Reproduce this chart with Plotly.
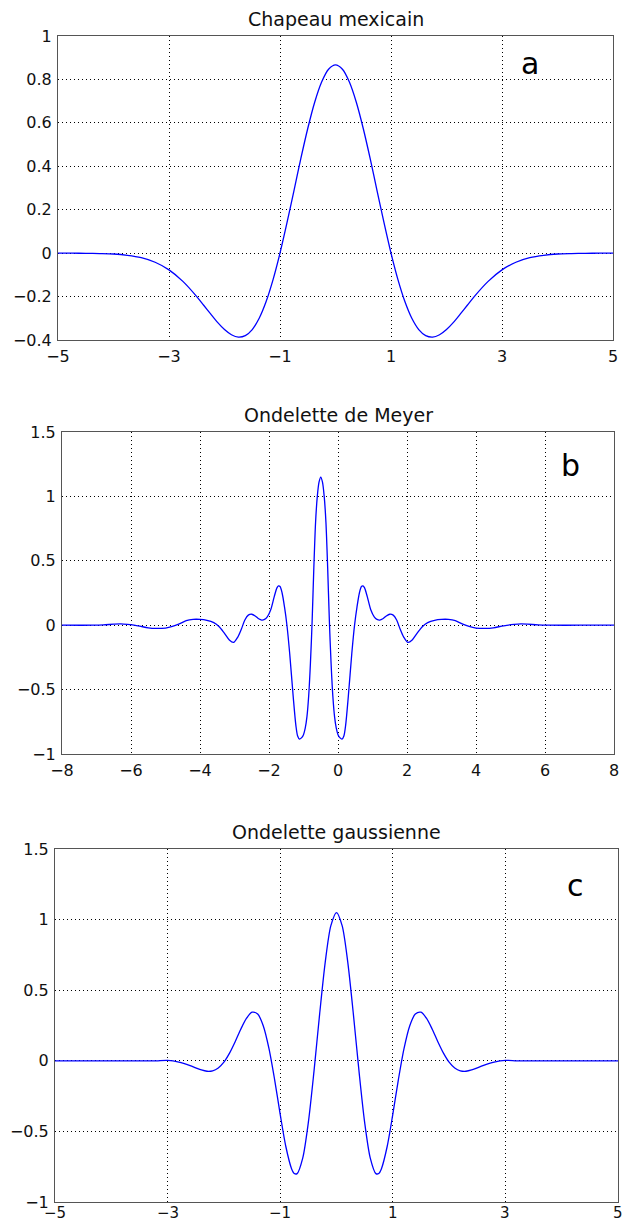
import plotly.graph_objects as go

# ---------------- data ----------------
# (a) Chapeau mexicain
hat_x = [-5, -4.75, -4.5, -4.25, -4, -3.75, -3.5, -3.25, -3, -2.75, -2.5, -2.375, -2.25, -2.125,
         -2, -1.875, -1.75, -1.625, -1.5, -1.375, -1.25, -1.125, -1, -0.875, -0.75, -0.625,
         -0.5, -0.375, -0.25, -0.125, 0, 0.125, 0.25, 0.375, 0.5, 0.625, 0.75, 0.875, 1,
         1.125, 1.25, 1.375, 1.5, 1.625, 1.75, 1.875, 2, 2.125, 2.25, 2.375, 2.5, 2.75, 3,
         3.25, 3.5, 3.75, 4, 4.25, 4.5, 4.75, 5]
hat_y = [0.0, 0.0, -0.001, -0.002, -0.004, -0.010, -0.021, -0.042, -0.077, -0.130, -0.200,
         -0.240, -0.280, -0.319, -0.352, -0.376, -0.387, -0.380, -0.352, -0.300, -0.223,
         -0.122, 0.0, 0.139, 0.286, 0.435, 0.574, 0.695, 0.788, 0.847, 0.867, 0.847, 0.788,
         0.695, 0.574, 0.435, 0.286, 0.139, 0.0, -0.122, -0.223, -0.300, -0.352, -0.380,
         -0.387, -0.376, -0.352, -0.319, -0.280, -0.240, -0.200, -0.130, -0.077, -0.042,
         -0.021, -0.010, -0.004, -0.002, -0.001, 0.0, 0.0]

# (b) Ondelette de Meyer
meyer_x = [-8.0, -7.1, -6.8, -6.5, -6.3, -6.1, -5.8, -5.5, -5.3, -5.0, -4.8, -4.6, -4.4, -4.2,
           -4.0, -3.8, -3.6, -3.45, -3.3, -3.15, -3.03, -2.9, -2.8, -2.7, -2.6, -2.5, -2.4,
           -2.3, -2.21, -2.13, -2.05, -1.95, -1.85, -1.77, -1.725, -1.68, -1.62, -1.55, -1.48,
           -1.4, -1.3, -1.22, -1.17, -1.115, -1.06, -1.0, -0.95, -0.9, -0.85, -0.8, -0.75, -0.7,
           -0.65, -0.6, -0.55, -0.5, -0.45, -0.4, -0.35, -0.3, -0.25, -0.2, -0.15, -0.1, -0.05,
           0.0, 0.06, 0.115, 0.17, 0.22, 0.3, 0.4, 0.48, 0.55, 0.62, 0.68, 0.725, 0.77, 0.85,
           0.95, 1.05, 1.13, 1.21, 1.3, 1.4, 1.5, 1.6, 1.7, 1.8, 1.9, 2.03, 2.15, 2.3, 2.45,
           2.6, 2.8, 3.0, 3.2, 3.4, 3.6, 3.8, 4.0, 4.3, 4.5, 4.8, 5.1, 5.3, 5.5, 5.8, 6.1, 7.0, 8.0]
meyer_y = [0.0, 0.0, 0.002, 0.008, 0.010, 0.006, -0.005, -0.020, -0.025, -0.022, -0.010,
           0.010, 0.035, 0.045, 0.045, 0.038, 0.020, -0.010, -0.060, -0.115, -0.134, -0.090,
           -0.030, 0.040, 0.078, 0.085, 0.072, 0.050, 0.040, 0.045, 0.065, 0.120, 0.220, 0.290,
           0.305, 0.300, 0.250, 0.140, 0.000, -0.220, -0.550, -0.780, -0.860, -0.885, -0.875,
           -0.850, -0.800, -0.710, -0.550, -0.300, 0.030, 0.450, 0.800, 1.000, 1.110, 1.150,
           1.110, 1.000, 0.800, 0.450, 0.030, -0.300, -0.550, -0.710, -0.800, -0.850, -0.875,
           -0.885, -0.860, -0.780, -0.550, -0.220, 0.000, 0.140, 0.250, 0.300, 0.305, 0.290,
           0.220, 0.120, 0.065, 0.045, 0.040, 0.050, 0.072, 0.085, 0.078, 0.040, -0.030, -0.090,
           -0.134, -0.115, -0.060, -0.010, 0.020, 0.038, 0.045, 0.045, 0.035, 0.010, -0.010,
           -0.022, -0.025, -0.020, -0.005, 0.006, 0.010, 0.008, 0.002, 0.0, 0.0, 0.0]

# (c) Ondelette gaussienne
gaus_x = [-5, -4, -3.4, -3.2, -3.0, -2.8, -2.6, -2.5, -2.4, -2.3, -2.2, -2.1, -2.0, -1.9, -1.8,
          -1.7, -1.6, -1.5, -1.4, -1.3, -1.2, -1.1, -1.0, -0.9, -0.8, -0.75, -0.7, -0.6, -0.5,
          -0.4, -0.3, -0.2, -0.1, 0.0, 0.1, 0.2, 0.3, 0.4, 0.5, 0.6, 0.7, 0.75, 0.8, 0.9, 1.0,
          1.1, 1.2, 1.3, 1.4, 1.5, 1.6, 1.7, 1.8, 1.9, 2.0, 2.1, 2.2, 2.3, 2.4, 2.5, 2.6, 2.8,
          3.0, 3.2, 3.4, 4, 5]
gaus_y = [0.0, 0.0, 0.0, 0.0, 0.003, -0.009, -0.034, -0.050, -0.065, -0.074, -0.071, -0.051,
          -0.010, 0.054, 0.135, 0.224, 0.300, 0.344, 0.331, 0.247, 0.088, -0.131, -0.379,
          -0.607, -0.762, -0.798, -0.799, -0.689, -0.436, -0.075, 0.329, 0.699, 0.957, 1.050,
          0.957, 0.699, 0.329, -0.075, -0.436, -0.689, -0.799, -0.798, -0.762, -0.607, -0.379,
          -0.131, 0.088, 0.247, 0.331, 0.344, 0.300, 0.224, 0.135, 0.054, -0.010, -0.051,
          -0.071, -0.074, -0.065, -0.050, -0.034, -0.009, 0.003, 0.0, 0.0, 0.0, 0.0]

titles = ["Chapeau mexicain", "Ondelette de Meyer", "Ondelette gaussienne"]
letters = ["a", "b", "c"]

xticks_a = [-5, -3, -1, 1, 3, 5]
yticks_a = [-0.4, -0.2, 0, 0.2, 0.4, 0.6, 0.8, 1]
xticks_b = [-8, -6, -4, -2, 0, 2, 4, 6, 8]
yticks_b = [-1, -0.5, 0, 0.5, 1, 1.5]
xticks_c = [-5, -3, -1, 1, 3, 5]
yticks_c = [-1, -0.5, 0, 0.5, 1, 1.5]

# ---------------- layout ----------------
W, H = 624, 1223
FONT = "DejaVu Sans"


def fx(px):
    return px / W


def fy(py):
    return 1 - py / H


# pixel boxes: (left, right, top, bottom)
boxes = [(58, 613, 36, 340), (62, 614, 432, 754), (55, 618, 849, 1202)]
xranges = [[-5, 5], [-8, 8], [-5, 5]]
yranges = [[-0.4, 1], [-1, 1.5], [-1, 1.5]]
xticks = [xticks_a, xticks_b, xticks_c]
yticks = [yticks_a, yticks_b, yticks_c]
letter_pos = [(3.5, 0.875), (6.75, 1.24), (4.25, 1.245)]

fig = go.Figure()
series = [(hat_x, hat_y), (meyer_x, meyer_y), (gaus_x, gaus_y)]
for i, (xs, ys) in enumerate(series):
    sfx = "" if i == 0 else str(i + 1)
    fig.add_trace(go.Scatter(x=xs, y=ys, mode="lines", xaxis="x" + sfx, yaxis="y" + sfx,
                             line=dict(color="#0000ff", width=1.3, shape="spline", smoothing=0.8),
                             showlegend=False, hoverinfo="skip"))

layout = dict(width=W, height=H, margin=dict(l=0, r=0, t=0, b=0),
              paper_bgcolor="white", plot_bgcolor="white", showlegend=False,
              font=dict(family=FONT, size=16, color="#111111"))

annotations = []
for i in range(3):
    l, r, t, b = boxes[i]
    sfx = "" if i == 0 else str(i + 1)
    axis_common = dict(showline=True, mirror=True, linecolor="#555555", linewidth=1,
                       showgrid=True, gridcolor="#000000", gridwidth=1, griddash="1px,3px",
                       zeroline=False, ticks="", automargin=False, fixedrange=True)
    last = (i == 2)
    layout["xaxis" + sfx] = dict(domain=[fx(l), fx(r)], anchor="y" + sfx, range=xranges[i],
                                 tickmode="array", tickvals=xticks[i],
                                 ticklabelstandoff=2, showticklabels=not last,
                                 tickfont=dict(family=FONT, size=16, color="#111111"),
                                 **axis_common)
    layout["yaxis" + sfx] = dict(domain=[fy(b), fy(t)], anchor="x" + sfx, range=yranges[i],
                                 tickmode="array", tickvals=yticks[i], ticklabelstandoff=2,
                                 tickfont=dict(family=FONT, size=16, color="#111111"),
                                 **axis_common)
    if last:
        # bottom axis labels placed flush with the bottom edge of the page
        for v in xticks[i]:
            annotations.append(dict(text=("\u2212" + str(abs(v))) if v < 0 else str(v),
                                    xref="x" + sfx, yref="paper", x=v, y=0,
                                    xanchor="center", yanchor="bottom", showarrow=False,
                                    borderpad=0,
                                    font=dict(family=FONT, size=15, color="#111111")))
    annotations.append(dict(text=titles[i], xref="paper", yref="paper",
                            x=fx((l + r) / 2), y=fy(t - 4), xanchor="center", yanchor="bottom",
                            showarrow=False, font=dict(family=FONT, size=19, color="#111111")))
    annotations.append(dict(text=letters[i], xref="x" + sfx, yref="y" + sfx,
                            x=letter_pos[i][0], y=letter_pos[i][1], xanchor="center",
                            yanchor="middle", showarrow=False,
                            font=dict(family=FONT, size=30, color="#000000")))

layout["annotations"] = annotations
fig.update_layout(**layout)
fig.write_html("out.html", config={"displayModeBar": False})
